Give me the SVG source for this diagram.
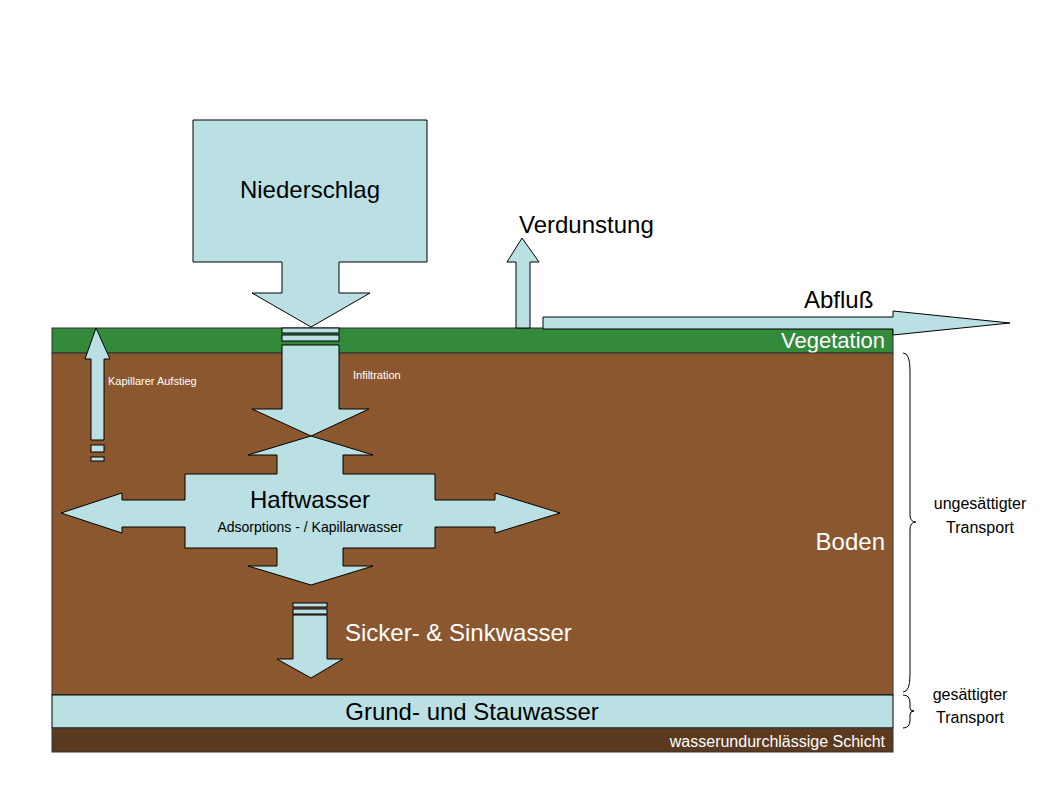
<svg xmlns="http://www.w3.org/2000/svg" width="1056" height="792" viewBox="0 0 1056 792">
<style>
.w{fill:#bae0e4;stroke:#000;stroke-width:1}
.t{font-family:"Liberation Sans",Arial,sans-serif}
.br{fill:none;stroke:#000;stroke-width:1}
</style>
<rect width="1056" height="792" fill="#fff"/>
<g id="vegetation"><rect x="52" y="328" width="841" height="25" fill="#338a3a" stroke="#333"/><text class="t" x="885" y="348" font-size="22" fill="#fff" text-anchor="end">Vegetation</text></g>
<g id="boden"><rect x="52" y="353" width="841" height="342" fill="#8b572f" stroke="#333"/><text class="t" x="885" y="550" font-size="24" fill="#fff" text-anchor="end">Boden</text></g>
<g id="grundwasser"><rect x="52" y="695" width="841" height="33" class="w"/><text class="t" x="472" y="720" font-size="24" text-anchor="middle">Grund- und Stauwasser</text></g>
<g id="schicht"><rect x="52" y="728" width="841" height="24" fill="#5b3a20" stroke="#333"/><text class="t" x="885" y="747" font-size="16" fill="#fff" text-anchor="end">wasserundurchlässige Schicht</text></g>
<g id="connectors">
<path class="w" d="M193,120H427V262H339V293H370L311,327L252,293H282V262H193Z"/>
<rect class="w" x="282" y="328" width="57" height="5"/><rect class="w" x="282" y="335" width="57" height="6"/>
<path class="w" d="M282,345H339V409H369L311,436L252,409H282Z"/>
<path class="w" d="M311,436L373,455H343V474H435V500H495V493L560,513L495,533V527H435V548H343V566H373L311,585L248,566H277V548H185V527H122V533L61,513L122,493V500H185V474H277V455H248Z"/>
<rect class="w" x="293" y="603" width="34" height="4"/><rect class="w" x="293" y="609" width="34" height="5"/>
<path class="w" d="M293,615H327V659H343L311,678L277,659H293Z"/>
<path class="w" d="M96,328L110,359H104V440H91V359H85Z"/>
<rect class="w" x="91" y="445" width="13" height="7"/><rect class="w" x="91" y="457" width="13" height="4"/>
<path class="w" d="M522,238L539,262H530V328H516V262H507Z"/>
<path class="w" d="M543,317H893V311L1010,323L893,335V329H543Z"/>
<path class="br" d="M903,353Q910,353 910,370V515Q910,522 916,522Q910,522 910,530V675Q910,692 903,692"/>
<path class="br" d="M903,695Q910,695 910,703V708Q910,711 914,711Q910,711 910,715V720Q910,728 903,728"/>
</g>
<g id="labels" class="t">
<text x="310" y="198" font-size="24" text-anchor="middle">Niederschlag</text>
<text x="519" y="233" font-size="24">Verdunstung</text>
<text x="804" y="308" font-size="24">Abfluß</text>
<text x="108" y="385" font-size="11" fill="#fff">Kapillarer Aufstieg</text>
<text x="353" y="379" font-size="11" fill="#fff">Infiltration</text>
<text x="310" y="508" font-size="24" text-anchor="middle">Haftwasser</text>
<text x="310" y="532" font-size="14" text-anchor="middle">Adsorptions - / Kapillarwasser</text>
<text x="345" y="641" font-size="24" fill="#fff">Sicker- &amp; Sinkwasser</text>
<text x="980" y="509" font-size="16" text-anchor="middle">ungesättigter</text>
<text x="980" y="533" font-size="16" text-anchor="middle">Transport</text>
<text x="970" y="700" font-size="16" text-anchor="middle">gesättigter</text>
<text x="970" y="723" font-size="16" text-anchor="middle">Transport</text>
</g>
</svg>
